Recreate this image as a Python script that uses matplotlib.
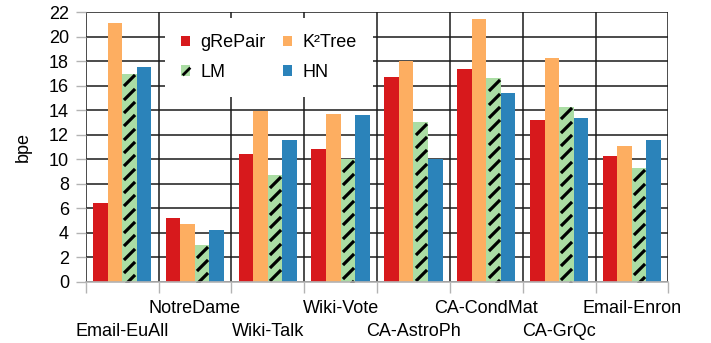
import numpy as np
import matplotlib
matplotlib.use("Agg")
import matplotlib.pyplot as plt
from matplotlib.path import Path
from matplotlib.patches import Patch
from matplotlib.lines import Line2D
from matplotlib.legend_handler import HandlerTuple

plt.rcParams['font.family'] = ['Liberation Sans', 'DejaVu Sans']
plt.rcParams['font.size'] = 13

datasets = ['Email-EuAll', 'NotreDame', 'Wiki-Talk', 'Wiki-Vote',
            'CA-AstroPh', 'CA-CondMat', 'CA-GrQc', 'Email-Enron']
grepair = [6.4, 5.2, 10.4, 10.8, 16.7, 17.4, 13.2, 10.3]
k2tree = [21.1, 4.75, 13.9, 13.7, 18.0, 21.45, 18.3, 11.1]
lm = [17.0, 3.0, 8.7, 10.0, 13.05, 16.6, 14.3, 9.25]
hn = [17.55, 4.25, 11.6, 13.6, 10.0, 15.45, 13.4, 11.6]

red = '#d7191c'
orange = '#fdae61'
green = '#abdda4'
blue = '#2b83ba'

slash = Path([(-0.5, -0.5), (0.5, 0.5)], [Path.MOVETO, Path.LINETO])

fig = plt.figure(figsize=(7.11, 3.43), dpi=100)
ax = fig.add_axes([0.1205, 0.1787, 0.8195, 0.7854])

x = np.arange(len(datasets))
w = 0.2
ax.bar(x - 1.5 * w, grepair, w, color=red, zorder=3)
ax.bar(x - 0.5 * w, k2tree, w, color=orange, zorder=3)
lm_bars = ax.bar(x + 0.5 * w, lm, w, color=green, zorder=3)
ax.bar(x + 1.5 * w, hn, w, color=blue, zorder=3)

# dashed hatching on the LM bars, clipped to each bar
for b in lm_bars:
    cx = b.get_x() + b.get_width() / 2
    ys = np.arange(b.get_height() - 0.55, -0.6, -1.09)
    ln, = ax.plot(np.full(len(ys), cx), ys, linestyle='none', marker=slash,
                  markersize=8, markeredgewidth=2.3, color='black', zorder=4)
    ln.set_clip_path(b)

ax.set_xlim(-0.5, len(datasets) - 0.5)
ax.set_ylim(0, 22)
ax.set_yticks(np.arange(0, 23, 2))
ax.set_xticks(x)
ax.set_xticklabels(datasets)
ax.set_xticks(np.arange(-0.5, len(datasets), 1), minor=True)
ax.tick_params(axis='x', which='major', length=0)
ax.tick_params(axis='x', which='minor', length=8, color='#b3b3b3', width=1)
ax.tick_params(axis='y', length=7, color='#b3b3b3', width=1, pad=5)
# staggered category labels: every other one drops to a second row
for i, t in enumerate(ax.xaxis.get_major_ticks()):
    t.set_pad(30 if i % 2 == 0 else 13.5)

ax.grid(axis='y', which='major', color='#1a1a1a', linewidth=1.1, zorder=1)
ax.grid(axis='x', which='minor', color='#1a1a1a', linewidth=1.1, zorder=1)
ax.set_axisbelow(True)
for s in ['top', 'right', 'left']:
    ax.spines[s].set_visible(False)
ax.spines['bottom'].set_color('#b3b3b3')
ax.spines['bottom'].set_linewidth(1.2)
ax.spines['bottom'].set_zorder(5)

ax.set_ylabel('bpe', labelpad=12)

lm_handle = (Patch(facecolor=green),
             Line2D([], [], linestyle='none', marker=slash, markersize=5.5,
                    markeredgewidth=2.0, color='black'))
handles = [Patch(facecolor=red), lm_handle, Patch(facecolor=orange), Patch(facecolor=blue)]
labels = ['gRePair', 'LM', 'K²Tree', 'HN']
leg = ax.legend(handles, labels, ncol=2, loc='upper left',
                bbox_to_anchor=(0.136, 0.979), frameon=True, fancybox=False,
                facecolor='white', edgecolor='none', framealpha=1,
                handlelength=0.5, handleheight=0.5, handletextpad=0.55,
                columnspacing=1.0, labelspacing=0.7, borderpad=0.9,
                borderaxespad=0, handler_map={tuple: HandlerTuple(ndivide=1)})
leg.set_zorder(6)

fig.savefig('out.png', dpi=100)
